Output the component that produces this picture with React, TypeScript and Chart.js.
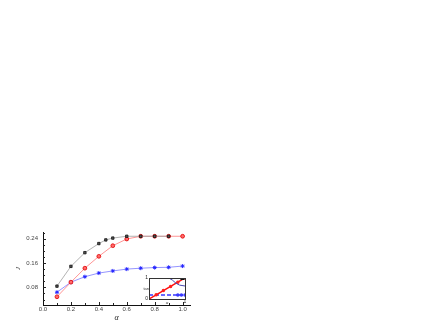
import React, { useEffect, useRef } from "react";
import { Chart, registerables } from "chart.js";
Chart.register(...registerables);

// Main chart data
const blackX = [0.1, 0.2, 0.3, 0.4, 0.45, 0.5, 0.6, 0.7, 0.8, 0.9];
const blackY = [0.084, 0.149, 0.194, 0.224, 0.236, 0.242, 0.248, 0.248, 0.248, 0.248];
const redX = [0.1, 0.2, 0.3, 0.4, 0.5, 0.6, 0.7, 0.8, 0.9, 1.0];
const redY = [0.049, 0.097, 0.143, 0.182, 0.217, 0.239, 0.248, 0.248, 0.248, 0.248];
const blueX = [0.1, 0.2, 0.3, 0.4, 0.5, 0.6, 0.7, 0.8, 0.9, 1.0];
const blueY = [0.064, 0.097, 0.115, 0.127, 0.134, 0.14, 0.143, 0.145, 0.146, 0.15];

const xTickValues = [0, 0.2, 0.4, 0.6, 0.8, 1.0];
const yTickValues = [0.08, 0.16, 0.24];
const xMinorTicks = [0.1, 0.2, 0.3, 0.4, 0.5, 0.6, 0.7, 0.8, 0.9, 1.0];
const yMinorTicks = [0.04, 0.06, 0.08, 0.1, 0.12, 0.14, 0.16, 0.18, 0.2, 0.22, 0.24, 0.26];

// Inset data
const insetBlackX = [0, 0.93];
const insetBlackY = [1, 1];
const insetRedX = [0, 0.2, 0.4, 0.6, 0.8, 1.0];
const insetRedY = [0, 0.2, 0.4, 0.6, 0.8, 1.0];
const insetBlueX = [0.55, 0.65, 0.75, 0.85, 1.0];
const insetBlueY = [1.0, 0.9, 0.75, 0.66, 0.62];
const insetBlueDashX = [0, 0.8, 0.9, 1.0];
const insetBlueDashY = [0.19, 0.19, 0.19, 0.19];

const pts = (xs: number[], ys: number[]) => xs.map((x, i) => ({ x, y: ys[i] }));

const tickPlugin = {
  id: "innerTicks",
  afterDraw(chart: any) {
    const { ctx, chartArea, scales } = chart;
    ctx.save();
    ctx.strokeStyle = "#222";
    ctx.lineWidth = 1;
    ctx.beginPath();
    xMinorTicks.forEach((v) => {
      const px = Math.round(scales.x.getPixelForValue(v)) + 0.5;
      const len = xTickValues.some((t) => Math.abs(t - v) < 1e-6) ? 3 : 2;
      ctx.moveTo(px, chartArea.bottom);
      ctx.lineTo(px, chartArea.bottom - len);
    });
    yMinorTicks.forEach((v) => {
      const py = Math.round(scales.y.getPixelForValue(v)) + 0.5;
      const len = yTickValues.some((t) => Math.abs(t - v) < 1e-6) ? 3 : 2;
      ctx.moveTo(chartArea.left, py);
      ctx.lineTo(chartArea.left + len, py);
    });
    ctx.stroke();
    ctx.restore();
  },
};

const insetPlugin = {
  id: "insetFrame",
  afterDraw(chart: any) {
    const { ctx, chartArea } = chart;
    ctx.save();
    ctx.strokeStyle = "#333";
    ctx.lineWidth = 1;
    ctx.strokeRect(
      Math.round(chartArea.left) + 0.5,
      Math.round(chartArea.top) + 0.5,
      Math.round(chartArea.right - chartArea.left),
      Math.round(chartArea.bottom - chartArea.top)
    );
    ctx.fillStyle = "#333";
    ctx.font = "4px 'Liberation Sans'";
    ctx.textAlign = "right";
    ctx.textBaseline = "middle";
    ctx.fillText("tan", chartArea.left, (chartArea.top + chartArea.bottom) / 2);
    ctx.restore();
  },
};

export default function App() {
  const mainRef = useRef<HTMLCanvasElement>(null);
  const insetRef = useRef<HTMLCanvasElement>(null);

  useEffect(() => {
    const tickFont = { size: 6, family: "'Liberation Sans', sans-serif" };
    const main = new Chart(mainRef.current as HTMLCanvasElement, {
      type: "line",
      data: {
        datasets: [
          {
            data: pts(blackX, blackY),
            borderColor: "#a0a0a0",
            borderWidth: 0.8,
            pointStyle: "rect",
            pointRadius: 1.7,
            pointBackgroundColor: "#555",
            pointBorderColor: "#111",
            pointBorderWidth: 0.8,
          },
          {
            data: pts(redX, redY),
            borderColor: "#ff7a7a",
            borderWidth: 0.8,
            pointStyle: "circle",
            pointRadius: 1.9,
            pointBackgroundColor: "#ff6a6a",
            pointBorderColor: "#e00000",
            pointBorderWidth: 0.8,
          },
          {
            data: pts(blueX, blueY),
            borderColor: "#7a7aff",
            borderWidth: 0.8,
            pointStyle: "star",
            pointRadius: 2,
            pointBackgroundColor: "#3030ff",
            pointBorderColor: "#2424ff",
            pointBorderWidth: 1,
          },
        ],
      },
      options: {
        animation: false,
        responsive: false,
        events: [],
        layout: { padding: { left: 0, top: 232, right: 246, bottom: 0 } },
        plugins: { legend: { display: false }, tooltip: { enabled: false } },
        scales: {
          x: {
            type: "linear",
            min: 0,
            max: 1.053,
            afterBuildTicks: (s: any) => {
              s.ticks = xTickValues.map((v) => ({ value: v }));
            },
            afterFit: (s: any) => {
              s.height = 22;
            },
            grid: { display: false, drawTicks: false },
            border: { display: true, color: "#111", width: 1 },
            ticks: {
              font: tickFont,
              color: "#444",
              padding: 1,
              maxRotation: 0,
              autoSkip: false,
              callback: (v: any) => Number(v).toFixed(1),
            },
            title: {
              display: true,
              text: "α",
              color: "#222",
              font: { size: 8, style: "italic", family: "'Liberation Serif', serif" },
              padding: { top: 0, bottom: 4 },
            },
          },
          y: {
            type: "linear",
            min: 0.022,
            max: 0.262,
            afterBuildTicks: (s: any) => {
              s.ticks = yTickValues.map((v) => ({ value: v }));
            },
            afterFit: (s: any) => {
              s.width = 43;
            },
            grid: { display: false, drawTicks: false },
            border: { display: true, color: "#111", width: 1 },
            ticks: {
              font: tickFont,
              color: "#444",
              padding: 5,
              autoSkip: false,
              callback: (v: any) => Number(v).toFixed(2),
            },
            title: {
              display: true,
              text: "J",
              color: "#222",
              font: { size: 7, style: "italic", family: "'Liberation Serif', serif" },
              padding: { top: 14, bottom: 0 },
            },
          },
        },
      },
      plugins: [tickPlugin],
    } as any);

    const insetFont = { size: 5, family: "'Liberation Sans', sans-serif" };
    const inset = new Chart(insetRef.current as HTMLCanvasElement, {
      type: "line",
      data: {
        datasets: [
          {
            data: pts(insetBlackX, insetBlackY),
            borderColor: "#111",
            borderWidth: 1.5,
            borderDash: [4, 2],
            pointStyle: "rect",
            pointRadius: [0, 1.8],
            pointBackgroundColor: "#111",
            pointBorderColor: "#111",
          },
          {
            data: pts(insetBlueX, insetBlueY),
            borderColor: "#4a4ab0",
            borderWidth: 1,
            pointRadius: 0,
          },
          {
            data: pts(insetRedX, insetRedY),
            borderColor: "#ff1010",
            borderWidth: 1.5,
            pointStyle: "circle",
            pointRadius: 1,
            pointBackgroundColor: "#ff2020",
            pointBorderColor: "#ff2020",
          },
          {
            data: pts(insetBlueDashX, insetBlueDashY),
            borderColor: "#3a3aff",
            borderWidth: 1.5,
            borderDash: [4, 2],
            pointStyle: "circle",
            pointRadius: [0, 1, 1, 1],
            pointBackgroundColor: "#3a3aff",
            pointBorderColor: "#3a3aff",
          },
        ],
      },
      options: {
        animation: false,
        responsive: false,
        events: [],
        layout: { padding: { left: 0, top: 6, right: 7, bottom: 0 } },
        plugins: { legend: { display: false }, tooltip: { enabled: false } },
        scales: {
          x: {
            type: "linear",
            min: 0,
            max: 1,
            afterBuildTicks: (s: any) => {
              s.ticks = [{ value: 1 }];
            },
            afterFit: (s: any) => {
              s.height = 9;
            },
            grid: { display: false, drawTicks: false },
            border: { display: false },
            ticks: { font: insetFont, color: "#222", padding: 0, maxRotation: 0, autoSkip: false },
            title: {
              display: true,
              text: "α",
              color: "#333",
              font: { size: 5, style: "italic", family: "'Liberation Serif', serif" },
              padding: { top: 0, bottom: 2 },
            },
          },
          y: {
            type: "linear",
            min: 0,
            max: 1,
            afterBuildTicks: (s: any) => {
              s.ticks = [{ value: 0 }, { value: 1 }];
            },
            afterFit: (s: any) => {
              s.width = 11;
            },
            grid: { display: false, drawTicks: false },
            border: { display: false },
            ticks: { font: insetFont, color: "#222", padding: 1, autoSkip: false },
          },
        },
      },
      plugins: [insetPlugin],
    } as any);

    return () => {
      main.destroy();
      inset.destroy();
    };
  }, []);

  return (
    <div style={{ position: "fixed", left: 0, top: 0, width: 436, height: 327, background: "#fff" }}>
      <canvas ref={mainRef} width={436} height={327} style={{ display: "block", position: "absolute", left: 0, top: 0 }} />
      <canvas
        ref={insetRef}
        width={54}
        height={36}
        style={{ display: "block", position: "absolute", left: 138, top: 272 }}
      />
    </div>
  );
}
